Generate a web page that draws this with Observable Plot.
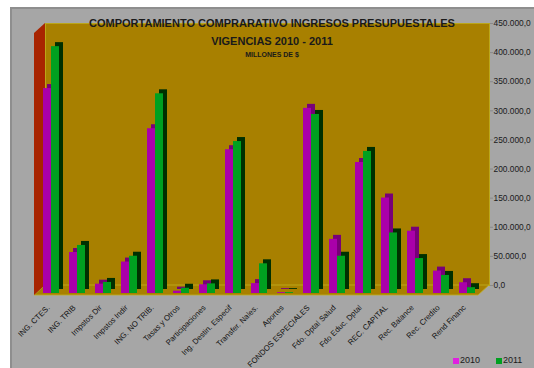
<!DOCTYPE html>
<html><head><meta charset="utf-8">
<script src="https://cdn.jsdelivr.net/npm/d3@7"></script>
<script src="https://cdn.jsdelivr.net/npm/@observablehq/plot@0.6"></script>
<style>
html,body{margin:0;padding:0;background:#fff;width:534px;height:368px;overflow:hidden;font-family:"Liberation Sans",Arial,sans-serif;}
#panel{position:absolute;left:10px;top:7px;width:524px;height:361px;background:#a6a6a6;border-top:2px solid #8e8e8e;border-left:2px solid #8e8e8e;box-sizing:border-box;}
#chart{position:absolute;left:0;top:0;}
.t{position:absolute;left:0;width:544px;text-align:center;font-weight:bold;color:#1a1a1a;white-space:nowrap;}
#legend{position:absolute;top:355px;left:0;font-size:9px;color:#1a1a1a;}
.sw{position:absolute;width:6px;height:6px;top:3px;}
.lt{position:absolute;top:0px;}
</style></head>
<body>
<div id="panel"></div>
<div id="chart"></div>
<div class="t" style="top:17px;font-size:11px;">COMPORTAMIENTO COMPRARATIVO INGRESOS PRESUPUESTALES</div>
<div class="t" style="top:35px;font-size:11px;">VIGENCIAS 2010 - 2011</div>
<div class="t" style="top:51px;font-size:7px;">MILLONES DE $</div>
<div id="legend">
  <div class="sw" style="left:453px;background:#e020e0"></div><div class="lt" style="left:460px">2010</div>
  <div class="sw" style="left:496px;background:#00a020"></div><div class="lt" style="left:503px">2011</div>
</div>
<script>
const categories = ["ING. CTES.","ING. TRIB","Impstos Dir","Impstos Indir","ING. NO TRIB.","Tasas y Otros","Participaciones","Ing. Destin. Especif","Transfer. Nales.","Aportes","FONDOS ESPECIALES","Fdo. Dptal Salud","Fdo Educ. Dptal","REC. CAPITAL","Rec. Balance","Rec. Credito","Rend Financ"];
const values2010 = [352000,70400,16000,54000,283000,4000,15000,247000,17000,1500,318000,93000,225000,164000,107000,38500,18500];
const values2011 = [424000,82500,19000,64000,343000,9000,16500,261000,51000,1500,307500,64000,244000,104000,60000,31000,10000];
const yTicks = [0,50000,100000,150000,200000,250000,300000,350000,400000,450000];

const d2010 = categories.map((c,i)=>({cat:c, value:values2010[i]}));
const d2011 = categories.map((c,i)=>({cat:c, value:values2011[i]}));
const fmt = d3.formatLocale({decimal:",", thousands:".", grouping:[3], currency:["$",""]}).format(",.1f");

const bar = (data, fill, dx, dy) => Plot.barY(data, {x:"cat", y:"value", fill, insetLeft:9, insetRight:9, dx, dy});

const plot = Plot.plot({
  width:534, height:340,
  marginLeft:45, marginRight:45, marginTop:23, marginBottom:55,
  style:{background:"transparent", fontFamily:"'Liberation Sans', Arial, sans-serif", overflow:"visible"},
  x:{domain:categories, padding:0, axis:null, label:null},
  y:{domain:[0,450000], axis:null, label:null},
  marks:[
    Plot.frame({fill:"#a88000", stroke:"#bba619", strokeWidth:1}),
    bar(d2010, "#780078", -8, 4),
    bar(d2010, "#aa00aa", -12, 8),
    bar(d2011, "#003000", 0, 4),
    bar(d2011, "#00a020", -4, 8),
    Plot.axisY(yTicks, {anchor:"right", label:null, tickFormat:fmt, tickSize:3, tickPadding:1, fontSize:8.4, color:"#1a1a1a", stroke:"#8a8a8a"}),
    Plot.axisX({anchor:"bottom", label:null, tickSize:0, tickPadding:0, tickRotate:-45, fontSize:7.8, fill:"#111", dx:-11, dy:21})
  ]
});
document.getElementById("chart").appendChild(plot);

// 3D floor and side wall, placed with the plot's own scales
const y = plot.scale("y");
const y0 = y.apply(0), yTop = y.apply(450000);
const xl = 45, xr = 534 - 45;
const firstBar = plot.querySelector('[aria-label="bar"]');
const g = document.createElementNS("http://www.w3.org/2000/svg","g");
plot.insertBefore(g, firstBar);
const gg = d3.select(g);
gg.append("polygon").attr("points", `${xl},${y0} ${xr},${y0} ${xr-11},${y0+10} ${xl-11},${y0+10}`)
  .attr("fill","#a88000").attr("stroke","#c2b020").attr("stroke-width",0.8);
gg.append("polygon").attr("points", `${xl},${yTop} ${xl},${y0} ${xl-11},${y0+10} ${xl-11},${yTop+10}`)
  .attr("fill","#a82400");
</script>
</body></html>
